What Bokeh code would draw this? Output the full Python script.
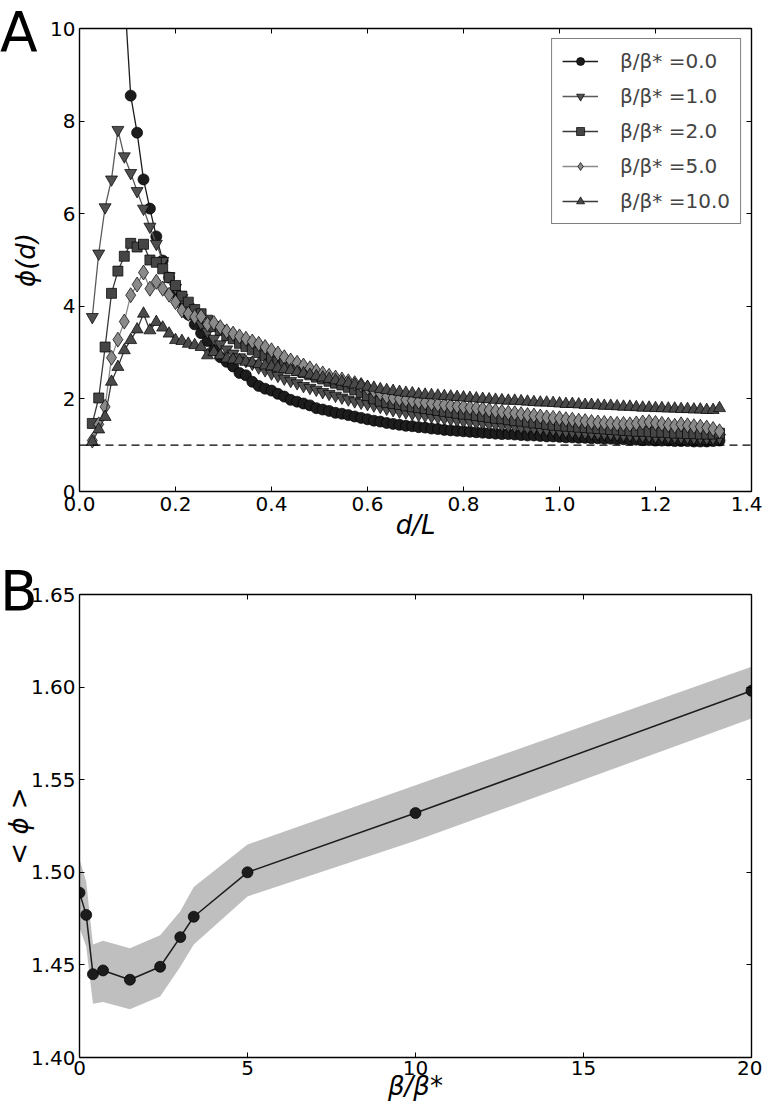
from bokeh.plotting import figure
from bokeh.layouts import column
from bokeh.models import (ColumnDataSource, Range1d, LinearAxis, FixedTicker, Span, Div,
                          Legend, LegendItem, NumeralTickFormatter, CustomJSTickFormatter)
from bokeh.embed import file_html
from bokeh.resources import INLINE

FONT = "DejaVu Sans"

# ---------------- Panel A data: phi(d) vs d/L  (L = 75) ----------------
L = 75
d_all = list(range(2, 101))          # separations d = 2 .. 100
d_b0 = list(range(7, 101))           # beta/beta*=0 curve (earlier points are far above 10)

phi_b0 = [10.8, 8.55, 7.75, 6.74, 6.11, 5.51, 4.99, 4.62, 4.30, 4.05,
          3.82, 3.61, 3.42, 3.25, 3.06, 2.90, 2.80, 2.70, 2.56, 2.51,
          2.37, 2.28, 2.22, 2.18, 2.11, 2.05, 1.98, 1.94, 1.90, 1.86,
          1.80, 1.77, 1.74, 1.70, 1.68, 1.65, 1.62, 1.59, 1.56, 1.53,
          1.51, 1.48, 1.46, 1.44, 1.42, 1.41, 1.39, 1.38, 1.36, 1.35,
          1.33, 1.32, 1.31, 1.30, 1.29, 1.28, 1.27, 1.26, 1.25, 1.24,
          1.24, 1.23, 1.22, 1.21, 1.21, 1.20, 1.19, 1.19, 1.18, 1.17,
          1.17, 1.16, 1.16, 1.15, 1.15, 1.14, 1.14, 1.13, 1.13, 1.12,
          1.12, 1.11, 1.11, 1.10, 1.10, 1.10, 1.09, 1.09, 1.09, 1.08,
          1.08, 1.08, 1.09, 1.10]

phi_b1 = [3.77, 5.14, 6.14, 6.74, 7.81, 7.24, 6.88, 6.49, 6.11, 5.72,
          5.35, 4.98, 4.65, 4.40, 4.18, 3.98, 3.80, 3.62, 3.45, 3.30,
          3.18, 3.07, 2.98, 2.90, 2.82, 2.76, 2.68, 2.62, 2.55, 2.50,
          2.44, 2.39, 2.34, 2.28, 2.24, 2.20, 2.15, 2.11, 2.07, 2.03,
          1.99, 1.95, 1.92, 1.89, 1.86, 1.83, 1.79, 1.76, 1.73, 1.71,
          1.68, 1.66, 1.64, 1.62, 1.60, 1.58, 1.56, 1.54, 1.52, 1.51,
          1.49, 1.48, 1.46, 1.45, 1.43, 1.42, 1.41, 1.39, 1.38, 1.37,
          1.35, 1.34, 1.33, 1.31, 1.30, 1.29, 1.28, 1.27, 1.26, 1.25,
          1.25, 1.24, 1.23, 1.22, 1.22, 1.21, 1.20, 1.20, 1.19, 1.19,
          1.18, 1.18, 1.17, 1.17, 1.16, 1.16, 1.15, 1.15, 1.16]

phi_b2 = [1.47, 2.02, 3.12, 4.28, 4.76, 5.08, 5.36, 5.28, 5.34, 5.00,
          4.95, 4.81, 4.62, 4.45, 4.22, 4.09, 3.93, 3.84, 3.70, 3.56,
          3.48, 3.37, 3.30, 3.20, 3.13, 3.06, 3.00, 2.93, 2.87, 2.80,
          2.74, 2.68, 2.62, 2.57, 2.52, 2.47, 2.43, 2.38, 2.34, 2.30,
          2.25, 2.20, 2.14, 2.07, 2.00, 1.95, 1.92, 1.90, 1.88, 1.85,
          1.83, 1.81, 1.79, 1.77, 1.75, 1.73, 1.71, 1.69, 1.67, 1.66,
          1.64, 1.62, 1.60, 1.58, 1.57, 1.55, 1.53, 1.52, 1.50, 1.48,
          1.47, 1.45, 1.43, 1.42, 1.41, 1.40, 1.39, 1.38, 1.37, 1.36,
          1.35, 1.34, 1.33, 1.32, 1.31, 1.30, 1.30, 1.29, 1.28, 1.28,
          1.27, 1.26, 1.26, 1.25, 1.25, 1.24, 1.24, 1.24, 1.26]

phi_b5 = [1.10, 1.45, 1.83, 2.89, 3.28, 3.67, 4.24, 4.47, 4.73, 4.38,
          4.53, 4.38, 4.25, 4.09, 3.91, 3.84, 3.77, 3.78, 3.61, 3.64,
          3.55, 3.46, 3.41, 3.35, 3.30, 3.24, 3.19, 3.12, 3.05, 2.98,
          2.90, 2.83, 2.78, 2.72, 2.66, 2.60, 2.55, 2.50, 2.46, 2.42,
          2.38, 2.34, 2.30, 2.24, 2.18, 2.12, 2.05, 2.02, 2.00, 1.98,
          1.96, 1.94, 1.92, 1.90, 1.88, 1.87, 1.85, 1.84, 1.83, 1.81,
          1.80, 1.78, 1.76, 1.74, 1.72, 1.70, 1.69, 1.67, 1.65, 1.64,
          1.62, 1.60, 1.59, 1.58, 1.56, 1.55, 1.53, 1.52, 1.50, 1.49,
          1.48, 1.47, 1.46, 1.46, 1.45, 1.47, 1.49, 1.50, 1.48, 1.46,
          1.44, 1.42, 1.45, 1.43, 1.41, 1.40, 1.38, 1.35, 1.30]

phi_b10 = [1.07, 1.34, 1.61, 2.37, 2.69, 3.05, 3.27, 3.50, 3.84, 3.48,
           3.66, 3.54, 3.41, 3.27, 3.25, 3.19, 3.16, 3.12, 2.94, 3.01,
           2.94, 2.87, 2.85, 2.83, 2.80, 2.78, 2.75, 2.72, 2.70, 2.67,
           2.64, 2.62, 2.58, 2.55, 2.52, 2.49, 2.46, 2.43, 2.40, 2.37,
           2.34, 2.31, 2.29, 2.26, 2.24, 2.21, 2.19, 2.17, 2.15, 2.13,
           2.12, 2.10, 2.09, 2.08, 2.07, 2.06, 2.05, 2.04, 2.03, 2.02,
           2.01, 2.00, 1.99, 1.98, 1.97, 1.96, 1.96, 1.95, 1.94, 1.93,
           1.92, 1.92, 1.91, 1.90, 1.89, 1.89, 1.88, 1.87, 1.87, 1.86,
           1.85, 1.85, 1.84, 1.83, 1.83, 1.82, 1.81, 1.81, 1.80, 1.80,
           1.79, 1.79, 1.78, 1.78, 1.77, 1.77, 1.76, 1.76, 1.80]

labels_A = ["β/β* =0.0", "β/β* =1.0", "β/β* =2.0", "β/β* =5.0", "β/β* =10.0"]

# ---------------- Panel B data: <phi> vs beta/beta* ----------------
beta_ratio = [0, 0.2, 0.4, 0.7, 1.5, 2.4, 3.0, 3.4, 5, 10, 20]
phi_mean = [1.489, 1.477, 1.445, 1.447, 1.442, 1.449, 1.465, 1.476, 1.500, 1.532, 1.598]
phi_low = [1.470, 1.460, 1.429, 1.430, 1.426, 1.433, 1.449, 1.461, 1.487, 1.517, 1.583]
phi_high = [1.507, 1.495, 1.461, 1.463, 1.459, 1.466, 1.479, 1.492, 1.515, 1.547, 1.611]

xticks_A = [0.0, 0.2, 0.4, 0.6, 0.8, 1.0, 1.2, 1.4]
yticks_A = [0, 2, 4, 6, 8, 10]
xticks_B = [0, 5, 10, 15, 20]
yticks_B = [1.40, 1.45, 1.50, 1.55, 1.60, 1.65]


def style_axis(ax, ticks, fmt=None, show=True, label_standoff=5):
    ax.ticker = FixedTicker(ticks=ticks)
    ax.axis_line_color = "black"
    ax.axis_line_width = 1.4
    ax.major_tick_in = 5
    ax.major_tick_out = 0
    ax.major_tick_line_color = "black"
    ax.major_tick_line_width = 1
    ax.minor_tick_line_color = None
    ax.major_label_text_font = FONT
    ax.major_label_text_font_size = "20px"
    ax.major_label_text_color = "black"
    if show:
        if fmt is not None:
            ax.formatter = fmt
        ax.major_label_standoff = label_standoff
    else:
        ax.formatter = CustomJSTickFormatter(code="return ''")
        ax.major_label_standoff = 0
    ax.axis_label_text_font = FONT
    ax.axis_label_text_font_size = "26px"
    ax.axis_label_text_font_style = "italic"
    ax.axis_label_text_color = "black"


def frame_axes(p, xt, yt, xfmt, yfmt, xstand, ystand, x_lab_off, y_lab_off):
    style_axis(p.below[0], xt, xfmt, True, xstand)
    style_axis(p.left[0], yt, yfmt, True, ystand)
    p.below[0].axis_label_standoff = x_lab_off
    p.left[0].axis_label_standoff = y_lab_off
    top = LinearAxis()
    right = LinearAxis()
    style_axis(top, xt, show=False)
    style_axis(right, yt, show=False)
    p.add_layout(top, "above")
    p.add_layout(right, "right")
    p.grid.visible = False
    p.outline_line_color = None
    p.background_fill_color = "white"
    p.border_fill_color = "white"


def panel_letter(text, top_px):
    return Div(text=text, width=40, height=64,
               styles={"position": "absolute", "left": "0px", "top": f"{top_px}px",
                       "font-family": FONT, "font-size": "55px", "line-height": "normal",
                       "color": "black", "margin": "0", "padding": "0", "z-index": "10"})


# ---------------- Panel A ----------------
p1 = figure(width=762, height=548, x_range=Range1d(0, 1.4), y_range=Range1d(0, 10),
            output_backend="svg", toolbar_location=None,
            min_border_left=73, min_border_right=11, min_border_top=28, min_border_bottom=57,
            x_axis_label="d/L", y_axis_label="ϕ(d)")
frame_axes(p1, xticks_A, yticks_A, NumeralTickFormatter(format="0.0"), None, 5, 4, -4, 6)

p1.add_layout(Span(location=1, dimension="width", line_color="black",
                   line_dash="8 5", line_width=1.2))

series = [
    (d_b0, phi_b0, "circle", 11, "#1c1c1c", "#1c1c1c"),
    (d_all, phi_b1, "inverted_triangle", 12, "#505050", "#5a5a5a"),
    (d_all, phi_b2, "square", 10, "#454545", "#3a3a3a"),
    (d_all, phi_b5, "diamond", 15, "#8a8a8a", "#8a8a8a"),
    (d_all, phi_b10, "triangle", 12, "#4a4a4a", "#3a3a3a"),
]
items = []
for (dv, yv, marker, size, fill, lcol), lab in zip(series, labels_A):
    src = ColumnDataSource(dict(x=[d / L for d in dv], y=yv))
    lr = p1.line("x", "y", source=src, line_color=lcol, line_width=1.3)
    sr = p1.scatter("x", "y", source=src, marker=marker, size=size, fill_color=fill,
                    line_color="black", line_width=0.7)
    items.append(LegendItem(label=lab, renderers=[lr, sr]))

legend = Legend(items=items, location="top_right", margin=10, padding=10, spacing=11,
                glyph_width=36, glyph_height=20, label_standoff=22,
                label_text_font=FONT, label_text_font_size="20px",
                border_line_color="black", border_line_width=1.2,
                background_fill_color="white", background_fill_alpha=1.0)
p1.add_layout(legend, "center")

# ---------------- Panel B ----------------
p2 = figure(width=762, height=559, x_range=Range1d(0, 20), y_range=Range1d(1.40, 1.65),
            output_backend="svg", toolbar_location=None,
            min_border_left=73, min_border_right=11, min_border_top=46, min_border_bottom=50,
            x_axis_label="β/β*", y_axis_label="< ϕ >")
frame_axes(p2, xticks_B, yticks_B, None, NumeralTickFormatter(format="0.00"), 3, 4, -7, -6)

srcB = ColumnDataSource(dict(x=beta_ratio, y=phi_mean, lo=phi_low, hi=phi_high))
p2.varea(x="x", y1="lo", y2="hi", source=srcB, fill_color="#bfbfbf", fill_alpha=1.0)
p2.line("x", "y", source=srcB, line_color="#1c1c1c", line_width=1.5)
p2.scatter("x", "y", source=srcB, marker="circle", size=11, fill_color="#1c1c1c",
           line_color="black", line_width=0.7)

layout = column(p1, p2, panel_letter("A", 0), panel_letter("B", 559), spacing=0)
open("out.html", "w").write(file_html(layout, INLINE))
